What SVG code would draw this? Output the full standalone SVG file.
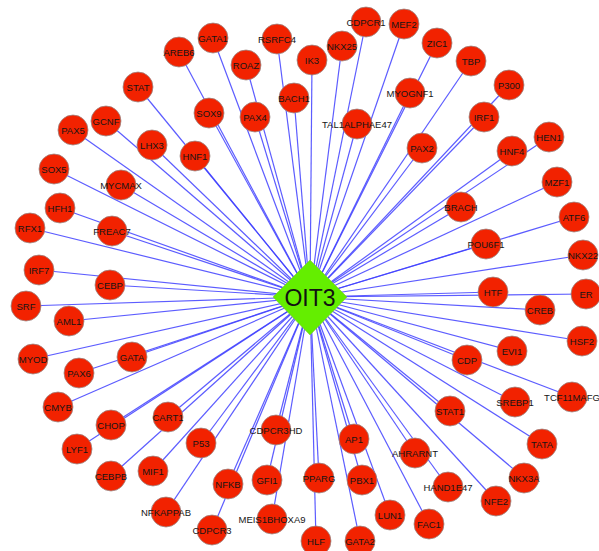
<svg xmlns="http://www.w3.org/2000/svg" width="599" height="551" viewBox="0 0 599 551">
<style>
.e{stroke:#3f3fff;stroke-width:1.2;stroke-opacity:0.85}
.n circle{fill:#f22200;stroke:#9a8a88;stroke-width:0.8}
.n text{font-family:"Liberation Sans",Arial,sans-serif;font-size:9.5px;fill:#151515;text-anchor:middle}
</style>
<rect width="599" height="551" fill="#fff"/>
<g id="edges">
<line class="e" x1="310" y1="297" x2="179" y2="52"/>
<line class="e" x1="310" y1="297" x2="213" y2="38"/>
<line class="e" x1="310" y1="297" x2="277" y2="39"/>
<line class="e" x1="310" y1="297" x2="246" y2="65"/>
<line class="e" x1="310" y1="297" x2="312" y2="60"/>
<line class="e" x1="310" y1="297" x2="342" y2="46"/>
<line class="e" x1="310" y1="297" x2="366" y2="22"/>
<line class="e" x1="310" y1="297" x2="404" y2="24"/>
<line class="e" x1="310" y1="297" x2="437" y2="43"/>
<line class="e" x1="310" y1="297" x2="471" y2="61"/>
<line class="e" x1="310" y1="297" x2="509" y2="85"/>
<line class="e" x1="310" y1="297" x2="484" y2="117"/>
<line class="e" x1="310" y1="297" x2="410" y2="93"/>
<line class="e" x1="310" y1="297" x2="357" y2="124"/>
<line class="e" x1="310" y1="297" x2="294" y2="98"/>
<line class="e" x1="310" y1="297" x2="255" y2="117"/>
<line class="e" x1="310" y1="297" x2="209" y2="113"/>
<line class="e" x1="310" y1="297" x2="138" y2="87"/>
<line class="e" x1="310" y1="297" x2="106" y2="121"/>
<line class="e" x1="310" y1="297" x2="73" y2="130"/>
<line class="e" x1="310" y1="297" x2="152" y2="145"/>
<line class="e" x1="310" y1="297" x2="195" y2="156"/>
<line class="e" x1="310" y1="297" x2="54" y2="169"/>
<line class="e" x1="310" y1="297" x2="121" y2="185"/>
<line class="e" x1="310" y1="297" x2="549" y2="137"/>
<line class="e" x1="310" y1="297" x2="512" y2="151"/>
<line class="e" x1="310" y1="297" x2="422" y2="148"/>
<line class="e" x1="310" y1="297" x2="557" y2="182"/>
<line class="e" x1="310" y1="297" x2="461" y2="207"/>
<line class="e" x1="310" y1="297" x2="574" y2="217"/>
<line class="e" x1="310" y1="297" x2="486" y2="244"/>
<line class="e" x1="310" y1="297" x2="583" y2="255"/>
<line class="e" x1="310" y1="297" x2="493" y2="292"/>
<line class="e" x1="310" y1="297" x2="586" y2="294"/>
<line class="e" x1="310" y1="297" x2="540" y2="310"/>
<line class="e" x1="310" y1="297" x2="582" y2="341"/>
<line class="e" x1="310" y1="297" x2="512" y2="351"/>
<line class="e" x1="310" y1="297" x2="467" y2="360"/>
<line class="e" x1="310" y1="297" x2="515" y2="402"/>
<line class="e" x1="310" y1="297" x2="572" y2="397"/>
<line class="e" x1="310" y1="297" x2="450" y2="411"/>
<line class="e" x1="310" y1="297" x2="542" y2="444"/>
<line class="e" x1="310" y1="297" x2="415" y2="453"/>
<line class="e" x1="310" y1="297" x2="524" y2="478"/>
<line class="e" x1="310" y1="297" x2="448" y2="487"/>
<line class="e" x1="310" y1="297" x2="496" y2="501"/>
<line class="e" x1="310" y1="297" x2="429" y2="524"/>
<line class="e" x1="310" y1="297" x2="390" y2="515"/>
<line class="e" x1="310" y1="297" x2="360" y2="541"/>
<line class="e" x1="310" y1="297" x2="316" y2="541"/>
<line class="e" x1="310" y1="297" x2="362" y2="480"/>
<line class="e" x1="310" y1="297" x2="354" y2="439"/>
<line class="e" x1="310" y1="297" x2="319" y2="478"/>
<line class="e" x1="310" y1="297" x2="267" y2="480"/>
<line class="e" x1="310" y1="297" x2="272" y2="519"/>
<line class="e" x1="310" y1="297" x2="276" y2="430"/>
<line class="e" x1="310" y1="297" x2="228" y2="484"/>
<line class="e" x1="310" y1="297" x2="212" y2="530"/>
<line class="e" x1="310" y1="297" x2="201" y2="443"/>
<line class="e" x1="310" y1="297" x2="166" y2="512"/>
<line class="e" x1="310" y1="297" x2="153" y2="471"/>
<line class="e" x1="310" y1="297" x2="111" y2="476"/>
<line class="e" x1="310" y1="297" x2="168" y2="417"/>
<line class="e" x1="310" y1="297" x2="111" y2="425"/>
<line class="e" x1="310" y1="297" x2="77" y2="449"/>
<line class="e" x1="310" y1="297" x2="58" y2="407"/>
<line class="e" x1="310" y1="297" x2="79" y2="373"/>
<line class="e" x1="310" y1="297" x2="132" y2="357"/>
<line class="e" x1="310" y1="297" x2="33" y2="359"/>
<line class="e" x1="310" y1="297" x2="69" y2="321"/>
<line class="e" x1="310" y1="297" x2="26" y2="306"/>
<line class="e" x1="310" y1="297" x2="110" y2="285"/>
<line class="e" x1="310" y1="297" x2="39" y2="270"/>
<line class="e" x1="310" y1="297" x2="112" y2="231"/>
<line class="e" x1="310" y1="297" x2="30" y2="228"/>
<line class="e" x1="310" y1="297" x2="60" y2="208"/>
</g>
<g id="nodes">
<g class="n" id="n-AREB6"><circle cx="179" cy="52" r="15"/><text x="179" y="55.5">AREB6</text></g>
<g class="n" id="n-GATA1"><circle cx="213" cy="38" r="15"/><text x="213" y="41.5">GATA1</text></g>
<g class="n" id="n-RSRFC4"><circle cx="277" cy="39" r="15"/><text x="277" y="42.5">RSRFC4</text></g>
<g class="n" id="n-ROAZ"><circle cx="246" cy="65" r="15"/><text x="246" y="68.5">ROAZ</text></g>
<g class="n" id="n-IK3"><circle cx="312" cy="60" r="15"/><text x="312" y="63.5">IK3</text></g>
<g class="n" id="n-NKX25"><circle cx="342" cy="46" r="15"/><text x="342" y="49.5">NKX25</text></g>
<g class="n" id="n-CDPCR1"><circle cx="366" cy="22" r="15"/><text x="366" y="25.5">CDPCR1</text></g>
<g class="n" id="n-MEF2"><circle cx="404" cy="24" r="15"/><text x="404" y="27.5">MEF2</text></g>
<g class="n" id="n-ZIC1"><circle cx="437" cy="43" r="15"/><text x="437" y="46.5">ZIC1</text></g>
<g class="n" id="n-TBP"><circle cx="471" cy="61" r="15"/><text x="471" y="64.5">TBP</text></g>
<g class="n" id="n-P300"><circle cx="509" cy="85" r="15"/><text x="509" y="88.5">P300</text></g>
<g class="n" id="n-IRF1"><circle cx="484" cy="117" r="15"/><text x="484" y="120.5">IRF1</text></g>
<g class="n" id="n-MYOGNF1"><circle cx="410" cy="93" r="15"/><text x="410" y="96.5">MYOGNF1</text></g>
<g class="n" id="n-TAL1ALPHAE47"><circle cx="357" cy="124" r="15"/><text x="357" y="127.5">TAL1ALPHAE47</text></g>
<g class="n" id="n-BACH1"><circle cx="294" cy="98" r="15"/><text x="294" y="101.5">BACH1</text></g>
<g class="n" id="n-PAX4"><circle cx="255" cy="117" r="15"/><text x="255" y="120.5">PAX4</text></g>
<g class="n" id="n-SOX9"><circle cx="209" cy="113" r="15"/><text x="209" y="116.5">SOX9</text></g>
<g class="n" id="n-STAT"><circle cx="138" cy="87" r="15"/><text x="138" y="90.5">STAT</text></g>
<g class="n" id="n-GCNF"><circle cx="106" cy="121" r="15"/><text x="106" y="124.5">GCNF</text></g>
<g class="n" id="n-PAX5"><circle cx="73" cy="130" r="15"/><text x="73" y="133.5">PAX5</text></g>
<g class="n" id="n-LHX3"><circle cx="152" cy="145" r="15"/><text x="152" y="148.5">LHX3</text></g>
<g class="n" id="n-HNF1"><circle cx="195" cy="156" r="15"/><text x="195" y="159.5">HNF1</text></g>
<g class="n" id="n-SOX5"><circle cx="54" cy="169" r="15"/><text x="54" y="172.5">SOX5</text></g>
<g class="n" id="n-MYCMAX"><circle cx="121" cy="185" r="15"/><text x="121" y="188.5">MYCMAX</text></g>
<g class="n" id="n-HEN1"><circle cx="549" cy="137" r="15"/><text x="549" y="140.5">HEN1</text></g>
<g class="n" id="n-HNF4"><circle cx="512" cy="151" r="15"/><text x="512" y="154.5">HNF4</text></g>
<g class="n" id="n-PAX2"><circle cx="422" cy="148" r="15"/><text x="422" y="151.5">PAX2</text></g>
<g class="n" id="n-MZF1"><circle cx="557" cy="182" r="15"/><text x="557" y="185.5">MZF1</text></g>
<g class="n" id="n-BRACH"><circle cx="461" cy="207" r="15"/><text x="461" y="210.5">BRACH</text></g>
<g class="n" id="n-ATF6"><circle cx="574" cy="217" r="15"/><text x="574" y="220.5">ATF6</text></g>
<g class="n" id="n-POU6F1"><circle cx="486" cy="244" r="15"/><text x="486" y="247.5">POU6F1</text></g>
<g class="n" id="n-NKX22"><circle cx="583" cy="255" r="15"/><text x="583" y="258.5">NKX22</text></g>
<g class="n" id="n-HTF"><circle cx="493" cy="292" r="15"/><text x="493" y="295.5">HTF</text></g>
<g class="n" id="n-ER"><circle cx="586" cy="294" r="15"/><text x="586" y="297.5">ER</text></g>
<g class="n" id="n-CREB"><circle cx="540" cy="310" r="15"/><text x="540" y="313.5">CREB</text></g>
<g class="n" id="n-HSF2"><circle cx="582" cy="341" r="15"/><text x="582" y="344.5">HSF2</text></g>
<g class="n" id="n-EVI1"><circle cx="512" cy="351" r="15"/><text x="512" y="354.5">EVI1</text></g>
<g class="n" id="n-CDP"><circle cx="467" cy="360" r="15"/><text x="467" y="363.5">CDP</text></g>
<g class="n" id="n-SREBP1"><circle cx="515" cy="402" r="15"/><text x="515" y="405.5">SREBP1</text></g>
<g class="n" id="n-TCF11MAFG"><circle cx="572" cy="397" r="15"/><text x="572" y="400.5">TCF11MAFG</text></g>
<g class="n" id="n-STAT1"><circle cx="450" cy="411" r="15"/><text x="450" y="414.5">STAT1</text></g>
<g class="n" id="n-TATA"><circle cx="542" cy="444" r="15"/><text x="542" y="447.5">TATA</text></g>
<g class="n" id="n-AHRARNT"><circle cx="415" cy="453" r="15"/><text x="415" y="456.5">AHRARNT</text></g>
<g class="n" id="n-NKX3A"><circle cx="524" cy="478" r="15"/><text x="524" y="481.5">NKX3A</text></g>
<g class="n" id="n-HAND1E47"><circle cx="448" cy="487" r="15"/><text x="448" y="490.5">HAND1E47</text></g>
<g class="n" id="n-NFE2"><circle cx="496" cy="501" r="15"/><text x="496" y="504.5">NFE2</text></g>
<g class="n" id="n-FAC1"><circle cx="429" cy="524" r="15"/><text x="429" y="527.5">FAC1</text></g>
<g class="n" id="n-LUN1"><circle cx="390" cy="515" r="15"/><text x="390" y="518.5">LUN1</text></g>
<g class="n" id="n-GATA2"><circle cx="360" cy="541" r="15"/><text x="360" y="544.5">GATA2</text></g>
<g class="n" id="n-HLF"><circle cx="316" cy="541" r="15"/><text x="316" y="544.5">HLF</text></g>
<g class="n" id="n-PBX1"><circle cx="362" cy="480" r="15"/><text x="362" y="483.5">PBX1</text></g>
<g class="n" id="n-AP1"><circle cx="354" cy="439" r="15"/><text x="354" y="442.5">AP1</text></g>
<g class="n" id="n-PPARG"><circle cx="319" cy="478" r="15"/><text x="319" y="481.5">PPARG</text></g>
<g class="n" id="n-GFI1"><circle cx="267" cy="480" r="15"/><text x="267" y="483.5">GFI1</text></g>
<g class="n" id="n-MEIS1BHOXA9"><circle cx="272" cy="519" r="15"/><text x="272" y="522.5">MEIS1BHOXA9</text></g>
<g class="n" id="n-CDPCR3HD"><circle cx="276" cy="430" r="15"/><text x="276" y="433.5">CDPCR3HD</text></g>
<g class="n" id="n-NFKB"><circle cx="228" cy="484" r="15"/><text x="228" y="487.5">NFKB</text></g>
<g class="n" id="n-CDPCR3"><circle cx="212" cy="530" r="15"/><text x="212" y="533.5">CDPCR3</text></g>
<g class="n" id="n-P53"><circle cx="201" cy="443" r="15"/><text x="201" y="446.5">P53</text></g>
<g class="n" id="n-NFKAPPAB"><circle cx="166" cy="512" r="15"/><text x="166" y="515.5">NFKAPPAB</text></g>
<g class="n" id="n-MIF1"><circle cx="153" cy="471" r="15"/><text x="153" y="474.5">MIF1</text></g>
<g class="n" id="n-CEBPB"><circle cx="111" cy="476" r="15"/><text x="111" y="479.5">CEBPB</text></g>
<g class="n" id="n-CART1"><circle cx="168" cy="417" r="15"/><text x="168" y="420.5">CART1</text></g>
<g class="n" id="n-CHOP"><circle cx="111" cy="425" r="15"/><text x="111" y="428.5">CHOP</text></g>
<g class="n" id="n-LYF1"><circle cx="77" cy="449" r="15"/><text x="77" y="452.5">LYF1</text></g>
<g class="n" id="n-CMYB"><circle cx="58" cy="407" r="15"/><text x="58" y="410.5">CMYB</text></g>
<g class="n" id="n-PAX6"><circle cx="79" cy="373" r="15"/><text x="79" y="376.5">PAX6</text></g>
<g class="n" id="n-GATA"><circle cx="132" cy="357" r="15"/><text x="132" y="360.5">GATA</text></g>
<g class="n" id="n-MYOD"><circle cx="33" cy="359" r="15"/><text x="33" y="362.5">MYOD</text></g>
<g class="n" id="n-AML1"><circle cx="69" cy="321" r="15"/><text x="69" y="324.5">AML1</text></g>
<g class="n" id="n-SRF"><circle cx="26" cy="306" r="15"/><text x="26" y="309.5">SRF</text></g>
<g class="n" id="n-CEBP"><circle cx="110" cy="285" r="15"/><text x="110" y="288.5">CEBP</text></g>
<g class="n" id="n-IRF7"><circle cx="39" cy="270" r="15"/><text x="39" y="273.5">IRF7</text></g>
<g class="n" id="n-FREAC7"><circle cx="112" cy="231" r="15"/><text x="112" y="234.5">FREAC7</text></g>
<g class="n" id="n-RFX1"><circle cx="30" cy="228" r="15"/><text x="30" y="231.5">RFX1</text></g>
<g class="n" id="n-HFH1"><circle cx="60" cy="208" r="15"/><text x="60" y="211.5">HFH1</text></g>
<g id="n-OIT3"><polygon points="310,260 347,297 310,335 273,297" fill="#64ee00" stroke="#7fbf40" stroke-width="0.6"/><text x="310" y="306" font-family="Liberation Sans, Arial, sans-serif" font-size="23" text-anchor="middle" fill="#111">OIT3</text></g>
</g>
</svg>
